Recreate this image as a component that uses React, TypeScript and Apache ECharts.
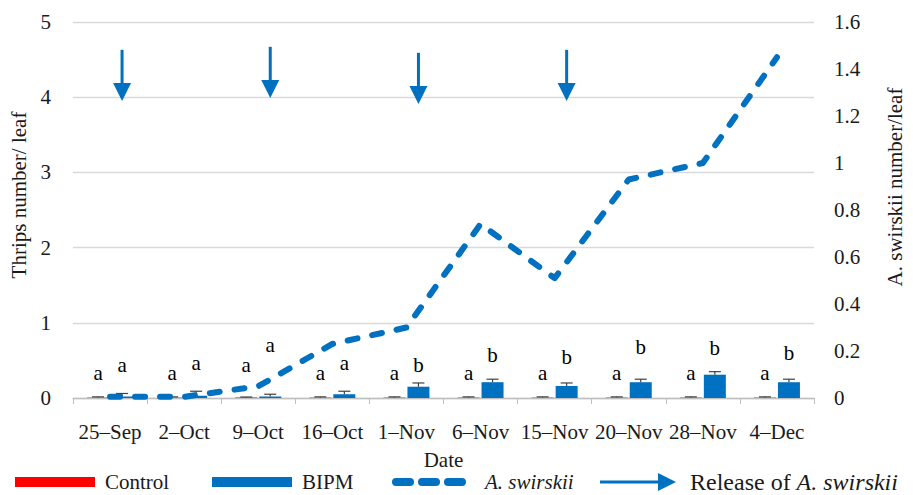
import React, { useEffect, useRef } from "react";
import * as echarts from "echarts";

const categories = ["25–Sep", "2–Oct", "9–Oct", "16–Oct", "1–Nov", "6–Nov", "15–Nov", "20–Nov", "28–Nov", "4–Dec"];
const controlMeans = [0.005, 0.005, 0.008, 0.005, 0.005, 0.005, 0.005, 0.005, 0.005, 0.005];
const controlErr = [0.01, 0.01, 0.005, 0.01, 0.01, 0.01, 0.01, 0.01, 0.01, 0.01];
const bipmMeans = [0.02, 0.03, 0.02, 0.05, 0.15, 0.21, 0.16, 0.21, 0.31, 0.21];
const bipmErr = [0.04, 0.06, 0.03, 0.04, 0.05, 0.04, 0.04, 0.04, 0.04, 0.04];
const controlLetters = ["a", "a", "a", "a", "a", "a", "a", "a", "a", "a"];
const bipmLetters = ["a", "a", "a", "a", "b", "b", "b", "b", "b", "b"];
const controlLetterPos = [0.33, 0.33, 0.44, 0.33, 0.33, 0.33, 0.33, 0.33, 0.33, 0.33];
const bipmLetterPos = [0.44, 0.47, 0.7, 0.47, 0.44, 0.57, 0.55, 0.68, 0.66, 0.6];
const swirskii = [0.005, 0.005, 0.05, 0.23, 0.3, 0.74, 0.51, 0.93, 1.0, 1.45];
const releaseDates = ["25–Sep", "9–Oct", "1–Nov", "15–Nov"];
const releaseTop = [4.63, 4.67, 4.59, 4.63];
const releaseTip = [3.95, 3.99, 3.91, 3.95];

const BLUE = "#0070C0";
const RED = "#FF0000";
const FONT = "Liberation Serif, serif";
const TXT = "#1a1a1a";
const FS = 21;

function errRenderer(means: number[], errs: number[], letters: string[], letterPos: number[], dx: number) {
  return (params: any, api: any) => {
    const i = params.dataIndex;
    const base = api.coord([i, means[i]]);
    const top = api.coord([i, means[i] + errs[i]]);
    const lp = api.coord([i, letterPos[i]]);
    const x = base[0] + dx;
    return {
      type: "group",
      children: [
        { type: "line", shape: { x1: x, y1: base[1], x2: x, y2: top[1] }, style: { stroke: "#404040", lineWidth: 1.2 } },
        { type: "line", shape: { x1: x - 6, y1: top[1], x2: x + 6, y2: top[1] }, style: { stroke: "#404040", lineWidth: 1.2 } },
        {
          type: "text",
          x: x,
          y: lp[1],
          style: { text: letters[i], fontSize: FS, fontFamily: FONT, fill: "#000", align: "center", verticalAlign: "middle" },
        },
      ],
    };
  };
}

export default function App() {
  const ref = useRef<HTMLDivElement>(null);
  useEffect(() => {
    if (!ref.current) return;
    document.body.style.margin = "0";
    const chart = echarts.init(ref.current, null, { renderer: "svg" });
    const releaseData = releaseDates.map((d, k) => [categories.indexOf(d), releaseTop[k], releaseTip[k]]);
    const legendY = 482;
    const option: any = {
      animation: false,
      textStyle: { fontFamily: FONT },
      grid: { left: 73, right: 82, top: 22, bottom: 97 },
      xAxis: {
        type: "category",
        data: categories,
        boundaryGap: true,
        name: "Date",
        nameLocation: "middle",
        nameGap: 51,
        nameTextStyle: { fontSize: FS, color: TXT, fontFamily: FONT },
        axisLine: { lineStyle: { color: "#bfbfbf", width: 1.3 } },
        axisTick: { show: true, length: 6, lineStyle: { color: "#bfbfbf" } },
        axisLabel: { fontSize: FS, color: TXT, fontFamily: FONT, margin: 23, interval: 0 },
      },
      yAxis: [
        {
          type: "value",
          min: 0,
          max: 5,
          interval: 1,
          name: "Thrips number/ leaf",
          nameLocation: "middle",
          nameGap: 40,
          nameRotate: 90,
          nameTextStyle: { fontSize: FS, color: TXT, fontFamily: FONT, padding: [0, 0, 0, 30] },
          axisLine: { show: false },
          axisTick: { show: false },
          axisLabel: { fontSize: FS, color: TXT, fontFamily: FONT, margin: 22 },
          splitLine: { lineStyle: { color: "#d9d9d9", width: 1.3 } },
        },
        {
          type: "value",
          min: 0,
          max: 1.6,
          interval: 0.2,
          name: "A. swirskii number/leaf",
          nameLocation: "middle",
          nameGap: 70,
          nameRotate: 90,
          nameTextStyle: { fontSize: FS, color: TXT, fontFamily: FONT, padding: [0, 0, 0, 46] },
          axisLine: { show: false },
          axisTick: { show: false },
          axisLabel: { fontSize: FS, color: TXT, fontFamily: FONT, margin: 20 },
          splitLine: { show: false },
        },
      ],
      series: [
        { name: "Control", type: "bar", data: controlMeans, barWidth: 22, barGap: "9%", itemStyle: { color: RED }, z: 2 },
        { name: "BIPM", type: "bar", data: bipmMeans, barWidth: 22, itemStyle: { color: BLUE }, z: 2 },
        {
          name: "ControlErr",
          type: "custom",
          data: controlMeans.map((v, i) => [i, v]),
          renderItem: errRenderer(controlMeans, controlErr, controlLetters, controlLetterPos, -12),
          z: 3,
        },
        {
          name: "BIPMErr",
          type: "custom",
          data: bipmMeans.map((v, i) => [i, v]),
          renderItem: errRenderer(bipmMeans, bipmErr, bipmLetters, bipmLetterPos, 12),
          z: 3,
        },
        {
          name: "A. swirskii",
          type: "line",
          yAxisIndex: 1,
          data: swirskii,
          symbol: "none",
          lineStyle: { color: BLUE, width: 6, type: [10, 15], cap: "round", join: "round" },
          z: 4,
        },
        {
          name: "Release of A. swirskii",
          type: "custom",
          data: releaseData,
          encode: { x: 0, y: [1, 2] },
          renderItem: (params: any, api: any) => {
            const p0 = api.coord([api.value(0), api.value(1)]);
            const p1 = api.coord([api.value(0), api.value(2)]);
            const x = p0[0] + 12;
            return {
              type: "group",
              children: [
                { type: "line", shape: { x1: x, y1: p0[1], x2: x, y2: p1[1] - 16 }, style: { stroke: BLUE, lineWidth: 3 } },
                {
                  type: "polygon",
                  shape: { points: [[x - 9, p1[1] - 18], [x + 9, p1[1] - 18], [x, p1[1]]] },
                  style: { fill: BLUE },
                },
              ],
            };
          },
          z: 5,
        },
      ],
      graphic: [
        { type: "rect", shape: { x: 15, y: legendY - 5, width: 80, height: 10 }, style: { fill: RED } },
        { type: "text", x: 105, y: legendY, style: { text: "Control", fontSize: 21, fontFamily: FONT, fill: TXT, verticalAlign: "middle" } },
        { type: "rect", shape: { x: 212, y: legendY - 5, width: 80, height: 10 }, style: { fill: BLUE } },
        { type: "text", x: 302, y: legendY, style: { text: "BIPM", fontSize: 21, fontFamily: FONT, fill: TXT, verticalAlign: "middle" } },
        {
          type: "line",
          shape: { x1: 396, y1: legendY, x2: 467, y2: legendY },
          style: { stroke: BLUE, lineWidth: 8, lineDash: [14, 12], lineCap: "round" },
        },
        {
          type: "text",
          x: 485,
          y: legendY,
          style: { text: "A. swirskii", fontSize: 21, fontStyle: "italic", fontFamily: FONT, fill: TXT, verticalAlign: "middle" },
        },
        { type: "line", shape: { x1: 600, y1: legendY, x2: 662, y2: legendY }, style: { stroke: BLUE, lineWidth: 3 } },
        {
          type: "polygon",
          shape: { points: [[658, legendY - 9], [676, legendY], [658, legendY + 9]] },
          style: { fill: BLUE },
        },
        {
          type: "text",
          x: 690,
          y: legendY,
          style: {
            text: "{n|Release of }{i|A. swirskii}",
            verticalAlign: "middle",
            rich: {
              n: { fontSize: 24, fontFamily: FONT, fill: TXT },
              i: { fontSize: 24, fontFamily: FONT, fontStyle: "italic", fill: TXT },
            },
          },
        },
      ],
    };
    chart.setOption(option);
    return () => chart.dispose();
  }, []);
  return <div ref={ref} style={{ width: 913, height: 495 }} />;
}
